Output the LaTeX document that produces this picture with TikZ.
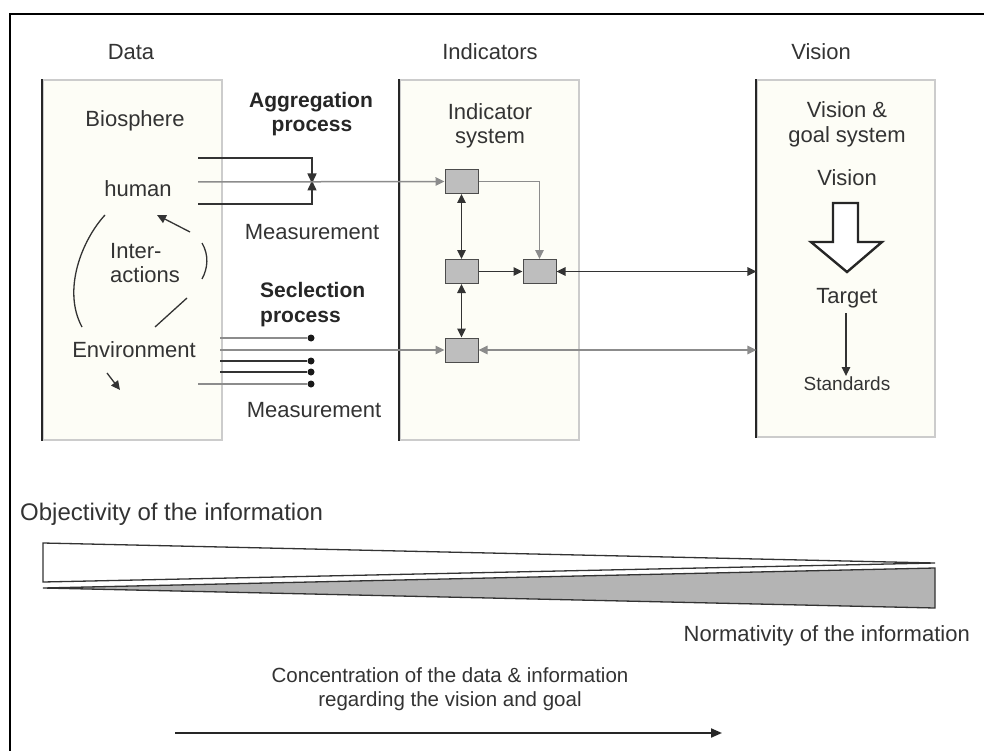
\documentclass[tikz,border=0pt]{standalone}
\usepackage{fontspec}
\setmainfont{Liberation Sans}
\usetikzlibrary{arrows.meta}
\definecolor{cream}{RGB}{253,253,246}
\definecolor{boxgray}{RGB}{190,190,190}
\definecolor{wedgegray}{RGB}{180,180,180}
\tikzset{tri/.tip={Triangle[length=9pt,width=8.5pt]}}
\begin{document}
\begin{tikzpicture}[x=1pt,y=-1pt,
  txt/.style={font=\fontsize{22}{24}\selectfont, inner sep=0pt, text=black!80},
  btxt/.style={font=\fontsize{21}{24.5}\selectfont\bfseries, inner sep=0pt, text=black!85},
  panel/.style={draw=gray!40, fill=cream, line width=1.3pt, minimum width=179pt, minimum height=360pt, inner sep=0pt},
  ibox/.style={draw=black!70, fill=boxgray, line width=1pt, minimum width=33pt, minimum height=24pt, inner sep=0pt},
  dk/.style={draw=black!80, line width=1.5pt},
  lt/.style={draw=black!45, line width=1.5pt},
  edge/.style={draw=black!85, line width=1.8pt},
  dot/.style={circle, fill=black!90, inner sep=0pt, minimum size=7pt},
]
\useasboundingbox (0,0) rectangle (984,751);
\fill[white] (0,0) rectangle (984,751);
% outer frame
\draw[line width=2.2pt, line cap=rect] (10,751) -- (10,14) -- (984,14);

% panels
\node[panel] (data) at (132.5,260) {};
\node[panel] (ind) at (489.5,260) {};
\node[panel, minimum width=178pt, minimum height=357pt] (vis) at (846,258.5) {};
\draw[edge] (data.north west) -- (data.south west);
\draw[edge] (ind.north west) -- (ind.south west);
\draw[edge] (vis.north west) -- (vis.south west);

% headings
\node[txt, anchor=base] (hdata) at (131,60) {Data};
\node[txt, anchor=base] (hind) at (490,60) {Indicators};
\node[txt, anchor=base] (hvis) at (821,60) {Vision};

% data panel texts
\node[txt, anchor=base] (bio) at (135,127) {Biosphere};
\node[txt, anchor=base] (human) at (138,197) {human};
\node[txt, anchor=north west, align=left] (inter) at (110,243) {Inter-\\actions};
\node[txt, anchor=base] (env) at (134,357) {Environment};

% interactions cycle
\draw[dk, line width=1.3pt] (105,215) .. controls (82,240) and (62,290) .. (82,327);
\draw[dk, line width=1.3pt] (202,243) .. controls (209,255) and (208,268) .. (202,279);
\draw[dk, line width=1.3pt] (187,298) -- (155,327);
\draw[dk, line width=1.3pt, -tri] (190,232) -- (157,215);
\draw[dk, line width=1.3pt, -tri] (107,373) -- (120,390);

% aggregation
\node[btxt, anchor=base] (agg) at (311,108) {Aggregation};
\node[btxt, anchor=base] (aggp) at (312,132) {process};
\node[txt, anchor=base] (meas1) at (312,240) {Measurement};

% indicator system
\node[txt, anchor=base] (isys1) at (490,120) {Indicator};
\node[txt, anchor=base] (isys2) at (490,144) {system};

\node[ibox] (A) at (461.5,181.5) {};
\node[ibox] (B) at (461.5,271.5) {};
\node[ibox] (C) at (539.5,271.5) {};
\node[ibox] (D) at (461.5,350) {};

\coordinate (a1) at (198,158);
\coordinate (a2) at (198,182);
\coordinate (a3) at (198,204);
\coordinate (aj) at (312,182);
\draw[dk, -{Triangle[length=10pt,width=9pt]}] (a1) -- (312,158) -- ([yshift=-1.5pt]aj);
\draw[dk, -{Triangle[length=10pt,width=9pt]}] (a3) -- (312,204) -- ([yshift=1.5pt]aj);
\draw[lt, -tri] (a2) -- (A.west);

\draw[lt, -tri] (A.east) -- (A.east -| C.north) -- (C.north);
\draw[dk, tri-tri] (A.south) -- (B.north);
\draw[dk, -tri] (B.east) -- (C.west);
\draw[dk, tri-tri] (B.south) -- (D.north);
\draw[dk, tri-tri] (C.east) -- (C.east -| vis.west);
\draw[lt, tri-tri] (D.east) -- (D.east -| vis.west);

% selection
\node[btxt, anchor=base west] (sel) at (260,297) {Seclection};
\node[btxt, anchor=base west] (selp) at (260,322) {process};
\node[txt, anchor=base] (meas2) at (314,417) {Measurement};

\node[dot] (s1) at (311,338) {};
\node[dot] (s3) at (311,361) {};
\node[dot] (s4) at (311,372) {};
\node[dot] (s5) at (311,384) {};
\coordinate (e1) at (220,338);
\coordinate (e2) at (220,350);
\coordinate (e3) at (220,361);
\coordinate (e4) at (220,372);
\coordinate (e5) at (198,384);
\draw[lt] (e1) -- (s1);
\draw[lt, -tri] (e2) -- (D.west);
\draw[dk, line width=1.9pt] (e3) -- (s3);
\draw[dk, line width=1.9pt] (e4) -- (s4);
\draw[lt] (e5) -- (s5);

% vision panel
\node[txt, anchor=base] (v1) at (847,118) {Vision \&};
\node[txt, anchor=base] (v2) at (847,143) {goal system};
\node[txt, anchor=base] (v3) at (847,186) {Vision};
\draw[line width=2.4pt, draw=black!85, fill=white, line join=miter]
  (833,203) -- (858,203) -- (858,242) -- (882,242) -- (847,272) -- (811,242) -- (833,242) -- cycle;
\node[txt, anchor=base] (tgt) at (847,303) {Target};
\node[txt, anchor=base, font=\fontsize{19}{22}\selectfont] (std) at (847,390) {Standards};
\draw[dk, line width=1.3pt, -tri] (846,313) -- (std.north -| 846,0);

% bottom part
\node[txt, anchor=base west, font=\fontsize{24}{26}\selectfont] (obj) at (20,520) {Objectivity of the information};
\draw[line width=1.3pt, draw=black!80, fill=white] (43,543) -- (935,563) -- (43,582) -- cycle;
\draw[line width=1.3pt, draw=black!80, fill=wedgegray] (43,588) -- (935,568) -- (935,608) -- cycle;
\node[txt, anchor=base east] (norm) at (970,641) {Normativity of the information};
\node[txt, anchor=base, font=\fontsize{20.5}{24}\selectfont] (conc1) at (450,682) {Concentration of the data \& information};
\node[txt, anchor=base, font=\fontsize{20.5}{24}\selectfont] (conc2) at (450,706) {regarding the vision and goal};
\coordinate (c0) at (175,733);
\coordinate (c1) at (722,733);
\draw[draw=black!85, line width=2pt, -{Triangle[length=11pt,width=9pt]}] (c0) -- (c1);
\end{tikzpicture}
\end{document}
